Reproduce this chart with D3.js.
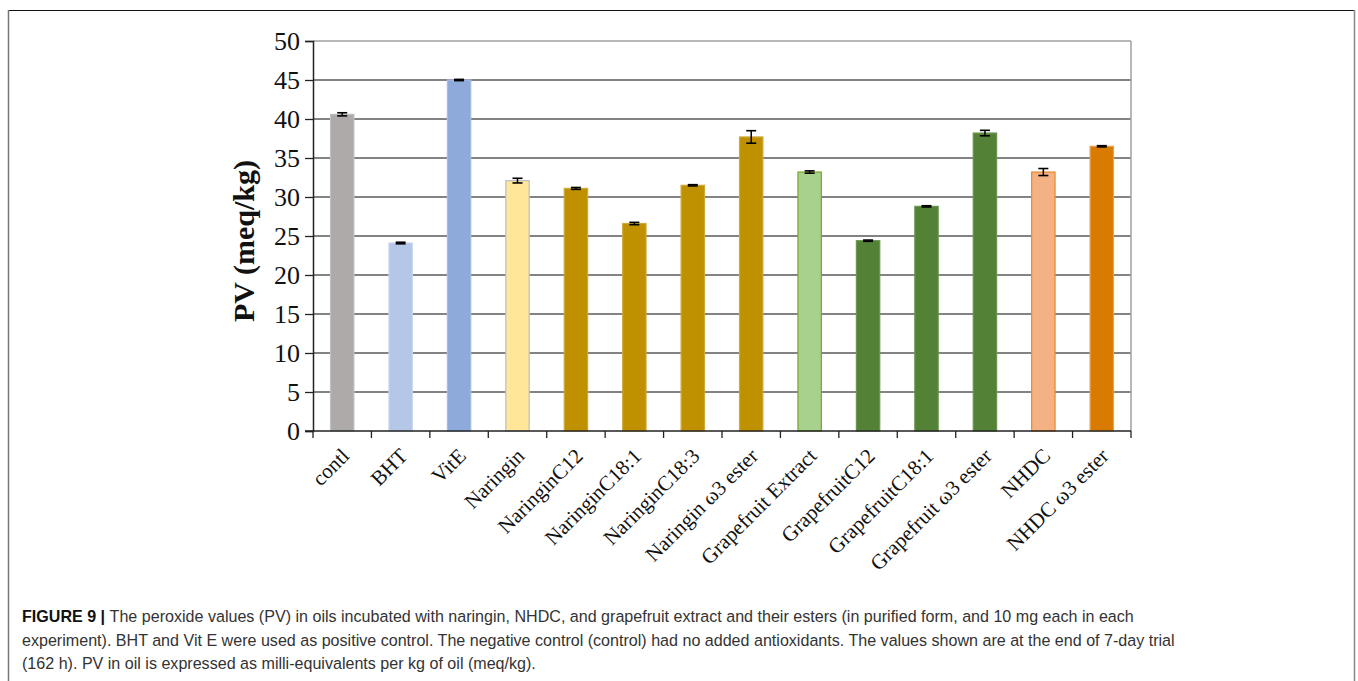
<!DOCTYPE html>
<html><head><meta charset="utf-8">
<script src="https://cdn.jsdelivr.net/npm/d3@7"></script>
<style>body{margin:0;background:#fff}svg{display:block}</style>
</head><body>
<svg id="c" width="1358" height="681"></svg>
<script>
const categories = ["contl","BHT","VitE","Naringin","NaringinC12","NaringinC18:1","NaringinC18:3","Naringin \u03c93 ester","Grapefruit Extract","GrapefruitC12","GrapefruitC18:1","Grapefruit \u03c93 ester","NHDC","NHDC \u03c93 ester"];
const values = [40.6, 24.1, 45.0, 32.1, 31.1, 26.6, 31.5, 37.7, 33.2, 24.4, 28.8, 38.2, 33.2, 36.5];
const errors = [0.2, 0.1, 0.08, 0.3, 0.12, 0.15, 0.08, 0.8, 0.15, 0.08, 0.08, 0.35, 0.45, 0.08];
const fills = ["#aeaaaa","#b4c7e7","#8eaadb","#ffe699","#bf9000","#bf9000","#bf9000","#bf9000","#a9d18e","#538135","#538135","#538135","#f4b183","#d97b00"];
const strokes = ["#c0c0c0","#c8d6ee","#a6bce3","#bfbfbf","#cfa838","#cfa838","#cfa838","#cfa838","#7aa526","#6a9550","#6a9550","#6a9550","#e8892a","#e8a050"];
const yTicks = [0,5,10,15,20,25,30,35,40,45,50];
const captionBold = "FIGURE 9 | ";
const captionLines = [
 "The peroxide values (PV) in oils incubated with naringin, NHDC, and grapefruit extract and their esters (in purified form, and 10 mg each in each",
 "experiment). BHT and Vit E were used as positive control. The negative control (control) had no added antioxidants. The values shown are at the end of 7-day trial",
 "(162 h). PV in oil is expressed as milli-equivalents per kg of oil (meq/kg)."
];

const svg = d3.select("#c");
// figure frame
svg.append("line").attr("x1",8).attr("x2",1355).attr("y1",10.5).attr("y2",10.5).attr("stroke","#111").attr("stroke-width",1.2);
svg.append("line").attr("x1",8.5).attr("x2",8.5).attr("y1",10).attr("y2",681).attr("stroke","#777").attr("stroke-width",1.5);
svg.append("line").attr("x1",1354.5).attr("x2",1354.5).attr("y1",10).attr("y2",681).attr("stroke","#888").attr("stroke-width",1.5);

const L=313, R=1131, T=41, B=431;
const x = d3.scaleBand().domain(categories).range([L,R]).paddingInner(0.6).paddingOuter(0.3);
const y = d3.scaleLinear().domain([0,50]).range([B,T]);
const g = svg.append("g");
const serif = "'Liberation Serif','Times New Roman',serif";

// gridlines
g.selectAll("line.grid").data(yTicks.filter(d=>d>0)).join("line")
  .attr("x1",L).attr("x2",R).attr("y1",d=>y(d)).attr("y2",d=>y(d))
  .attr("stroke", d=> d===50 ? "#a0a0a0" : "#5a5a5a").attr("stroke-width",1.4);
// right border
g.append("line").attr("x1",R).attr("x2",R).attr("y1",T).attr("y2",B).attr("stroke","#a0a0a0").attr("stroke-width",1.5);

// bars
g.selectAll("rect.bar").data(categories).join("rect")
  .attr("x",d=>x(d)).attr("width",x.bandwidth())
  .attr("y",(d,i)=>y(values[i])).attr("height",(d,i)=>B-y(values[i]))
  .attr("fill",(d,i)=>fills[i]).attr("stroke",(d,i)=>strokes[i]).attr("stroke-width",1.2);

// error bars
const eb = g.selectAll("g.err").data(categories).join("g");
eb.append("line").attr("x1",d=>x(d)+x.bandwidth()/2).attr("x2",d=>x(d)+x.bandwidth()/2)
  .attr("y1",(d,i)=>y(values[i]+errors[i])).attr("y2",(d,i)=>y(values[i]-errors[i]))
  .attr("stroke","#000").attr("stroke-width",1.5);
[1,-1].forEach(s=>{
  eb.append("line").attr("x1",d=>x(d)+x.bandwidth()/2-5).attr("x2",d=>x(d)+x.bandwidth()/2+5)
    .attr("y1",(d,i)=>y(values[i]+s*errors[i])).attr("y2",(d,i)=>y(values[i]+s*errors[i]))
    .attr("stroke","#000").attr("stroke-width",1.6);
});

// y axis
const ya = d3.axisLeft(y).tickValues(yTicks).tickSize(8).tickFormat(d3.format("d"));
const yg = svg.append("g").attr("transform",`translate(${L},0)`).call(ya);
yg.select(".domain").attr("stroke","#222").attr("stroke-width",1.5);
yg.selectAll(".tick line").attr("stroke","#222").attr("stroke-width",1.3);
yg.selectAll(".tick text").attr("font-family",serif).attr("font-size",26).attr("fill","#111").attr("x",-13);

// x axis
const xg = svg.append("g").attr("transform",`translate(0,${B})`);
xg.append("line").attr("x1",L-8).attr("x2",R).attr("y1",0).attr("y2",0).attr("stroke","#222").attr("stroke-width",1.5);
const bounds = d3.range(categories.length+1).map(i=>L+i*(R-L)/categories.length);
xg.selectAll("line.tk").data(bounds).join("line").attr("x1",d=>d).attr("x2",d=>d).attr("y1",0).attr("y2",7).attr("stroke","#222").attr("stroke-width",1.3);
xg.selectAll("text.lab").data(categories).join("text")
  .attr("transform",d=>`translate(${x(d)+x.bandwidth()/2+3},${21}) rotate(-45)`)
  .attr("text-anchor","end").attr("dy","0.35em")
  .attr("font-family",serif).attr("font-size",21).attr("fill","#111")
  .text(d=>d);

// y label
svg.append("text").attr("transform","translate(243,241) rotate(-90)").attr("text-anchor","middle").attr("dy","0.35em")
  .attr("font-family",serif).attr("font-weight","bold").attr("font-size",30).attr("fill","#111")
  .text("PV (meq/kg)");

// caption
const cap = svg.append("g").attr("font-family","'Liberation Sans',Arial,sans-serif").attr("font-size",15).attr("fill","#333");
const baselines=[622,646,669];
const t0 = cap.append("text").attr("x",22).attr("y",baselines[0]);
t0.append("tspan").attr("font-weight","bold").attr("fill","#111").text(captionBold);
t0.append("tspan").text(captionLines[0]);
const t1 = cap.append("text").attr("x",22).attr("y",baselines[1]).text(captionLines[1]);
const t2 = cap.append("text").attr("x",22).attr("y",baselines[2]).text(captionLines[2]);
// fit caption width to reference (line 1 spans ~22..1134)
const w = t0.node().getComputedTextLength();
cap.attr("font-size", 15 * 1112 / w);
</script>
</body></html>
